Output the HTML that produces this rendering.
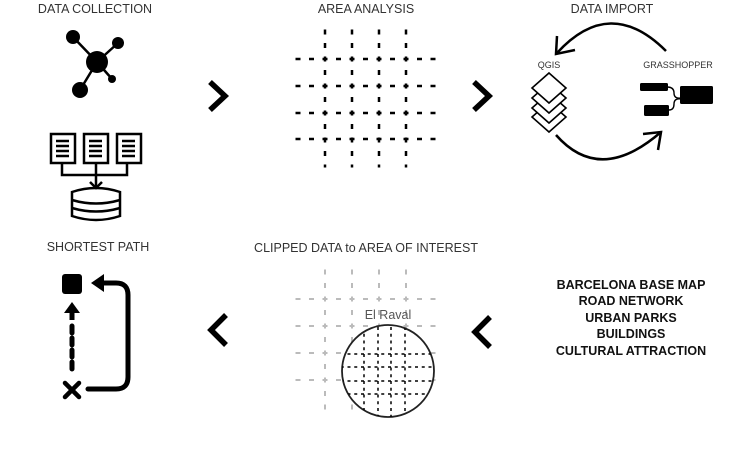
<!DOCTYPE html>
<html><head><meta charset="utf-8"><style>
html,body{margin:0;padding:0;background:#fff;width:730px;height:469px;overflow:hidden}
svg{display:block}
.t{font-family:"Liberation Sans","DejaVu Sans",sans-serif;font-size:12.5px;fill:#333;text-anchor:middle}
.b{font-family:"Liberation Sans",sans-serif;font-weight:bold;font-size:12.5px;fill:#111;text-anchor:middle}
</style></head><body>
<svg width="730" height="469" viewBox="0 0 730 469">
<defs>
<clipPath id="cc"><circle cx="388" cy="371" r="46"/></clipPath>
</defs>
<text class="t" x="95" y="13">DATA  COLLECTION</text>
<text class="t" x="366" y="13">AREA  ANALYSIS</text>
<text class="t" x="612" y="13">DATA IMPORT</text>
<text class="t" x="98" y="251">SHORTEST PATH</text>
<text class="t" x="366" y="252">CLIPPED DATA to AREA OF INTEREST</text>

<g stroke="#000" stroke-width="2.5">
<line x1="97" y1="62" x2="73" y2="37"/><line x1="97" y1="62" x2="118" y2="43"/>
<line x1="97" y1="62" x2="80" y2="90"/><line x1="97" y1="62" x2="112" y2="79"/>
</g>
<g fill="#000"><circle cx="97" cy="62" r="11"/><circle cx="73" cy="37" r="7"/><circle cx="118" cy="43" r="6"/><circle cx="80" cy="90" r="8"/><circle cx="112" cy="79" r="4"/></g>

<g fill="none" stroke="#000" stroke-width="2.5">
<rect x="51" y="134" width="24" height="29"/><rect x="84" y="134" width="24" height="29"/><rect x="117" y="134" width="24" height="29"/>
<path d="M56 141h13M56 146h13M56 151h13M56 156h13M89 141h13M89 146h13M89 151h13M89 156h13M122 141h13M122 146h13M122 151h13M122 156h13"/>
<path d="M62 163v12h65v-12M96 163v24"/>
<path d="M90 182l6 6 6-6"/>
<path d="M72 192q24-8 48 0v24q-24 8-48 0z"/>
<path d="M72 200q24 7 48 0M72 208q24 7 48 0"/>
</g>

<g fill="none" stroke="#000" stroke-width="5.5" stroke-linejoin="miter">
<path d="M210 82l15 14-15 14"/>
<path d="M474 82l15 14-15 14"/>
<path d="M226 315l-15 15 15 15"/>
<path d="M490 317l-15 15 15 15"/>
</g>

<!-- area grid -->
<g stroke="#000" stroke-width="2.5" stroke-dasharray="5 8.5">
<path d="M325 29.5v138M352 29.5v138M379 29.5v138M406 29.5v138"/>
<path d="M295.5 59h140M295.5 86h140M295.5 113h140M295.5 139h140"/>
</g>

<!-- data import -->
<text class="t" x="549" y="68" style="font-size:9px">QGIS</text>
<text class="t" x="678" y="68" style="font-size:9px">GRASSHOPPER</text>
<g fill="#fff" stroke="#000" stroke-width="1.6">
<path d="M549 102l17 15-17 15-17-15z"/>
<path d="M549 93l17 15-17 15-17-15z"/>
<path d="M549 83l17 15-17 15-17-15z"/>
<path d="M549 73l17 15-17 15-17-15z"/>
</g>
<g fill="none" stroke="#000" stroke-width="2.5">
<path d="M666 51Q610 -5 557 53"/>
<path d="M557 36l-1 18 19-4"/>
<path d="M556 135Q600 185 661 132"/>
<path d="M643 134l18-2 -3 18"/>
<path d="M667 87q7 0 7 6t7 5M669 110q5 0 5-6t7-5" stroke-width="1.4"/>
</g>
<g fill="#000">
<rect x="640" y="83" width="28" height="8" rx="1.5"/>
<rect x="644" y="105" width="25" height="11" rx="1.5"/>
<rect x="680" y="86" width="33" height="18" rx="1.5"/>
</g>

<!-- shortest path -->
<rect x="62" y="274" width="20" height="20" rx="3" fill="#000"/>
<path d="M72 302l-8 11h16z" fill="#000"/>
<path d="M72 312v8" stroke="#000" stroke-width="5"/>
<path d="M72 326v48" stroke="#000" stroke-width="5" stroke-dasharray="7 5" stroke-linecap="round"/>
<path d="M65 383l14 14M79 383l-14 14" stroke="#000" stroke-width="4.5" stroke-linecap="round"/>
<path d="M88 389h28q12 0 12-12v-82q0-12-12-12h-16" fill="none" stroke="#000" stroke-width="5" stroke-linecap="round"/>
<path d="M91 283l13-9v18z" fill="#000"/>

<!-- clipped data -->
<g stroke="#bbb" stroke-width="2" stroke-dasharray="5 8.5">
<path d="M325 269.5v140M352 269.5v140M379 269.5v140M406 269.5v140"/>
<path d="M295.5 299h140M295.5 326h140M295.5 353h140M295.5 380h140"/>
</g>
<text class="t" x="388" y="319" style="font-size:12.5px;fill:#555">El Raval</text>
<circle cx="388" cy="371" r="46" fill="#fff" stroke="#222" stroke-width="1.8"/>
<g clip-path="url(#cc)" stroke="#000" stroke-width="1.5" stroke-dasharray="3 3.75">
<path d="M364 327v90M378 327v90M391 327v90M405 327v90"/>
<path d="M334 354h100M334 367h100M334 381h100M334 394h100"/>
</g>

<text class="b" x="631" y="289">BARCELONA BASE MAP</text>
<text class="b" x="631" y="305">ROAD NETWORK</text>
<text class="b" x="631" y="322">URBAN PARKS</text>
<text class="b" x="631" y="338">BUILDINGS</text>
<text class="b" x="631" y="355">CULTURAL ATTRACTION</text>
</svg>
</body></html>
